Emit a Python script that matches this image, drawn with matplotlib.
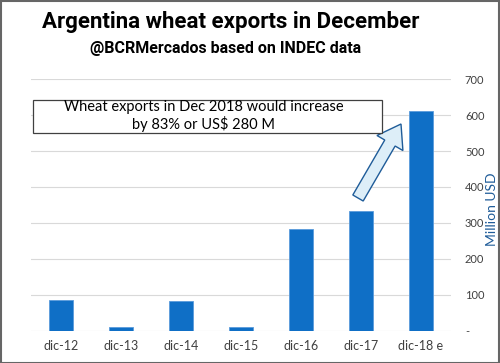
import matplotlib.pyplot as plt
from matplotlib.patches import Rectangle, FancyArrow
from matplotlib.transforms import IdentityTransform

months = ['dic-12', 'dic-13', 'dic-14', 'dic-15', 'dic-16', 'dic-17', 'dic-18 e']
exports = [85, 9, 84, 10, 283, 333, 612]
yticks = [0, 100, 200, 300, 400, 500, 600, 700]
ytick_labels = ['-', '100', '200', '300', '400', '500', '600', '700']

BAR = '#0F6FC6'
FONT = 'Lato'


def main() -> None:
    fig = plt.figure(figsize=(5.0, 3.63), dpi=100)
    ax = fig.add_axes([0.062, 0.089, 0.840, 0.693])

    x = list(range(len(months)))
    ax.bar(x, exports, width=0.4, color=BAR, edgecolor='#5A9BDC', linewidth=0.6, zorder=3)

    ax.set_xlim(-0.5, len(months) - 0.5)
    ax.set_ylim(0, 700)
    ax.set_xticks(x)
    ax.set_xticklabels(months, fontsize=9, color='#404040', family=FONT)
    ax.yaxis.tick_right()
    ax.set_yticks(yticks)
    ax.set_yticklabels(ytick_labels, fontsize=8, color='#404040', family=FONT)
    ax.tick_params(length=0)
    ax.tick_params(axis='y', pad=10)
    ax.tick_params(axis='x', pad=7)
    ax.grid(axis='y', color='#D9D9D9', linewidth=0.8, zorder=0)
    for s in ax.spines.values():
        s.set_visible(False)
    fig.text(492 / 500, 1 - 209 / 363, 'Million USD', rotation=90, ha='center', va='center',
             fontsize=10, color='#1F5C99', family=FONT)

    # callout arrow pointing at the estimate (pixel coordinates, origin bottom-left)
    fig.patches.append(FancyArrow(358, 165, 43, 74, width=12, head_width=30, head_length=22,
                                  length_includes_head=True, facecolor='#DDEEF8',
                                  edgecolor='#1F5C99', linewidth=1.0, zorder=4,
                                  transform=IdentityTransform()))

    # annotation box
    fig.patches.append(Rectangle((33 / 500, 1 - 133 / 363), 349 / 500, 33 / 363,
                                 transform=fig.transFigure, facecolor='white',
                                 edgecolor='#404040', linewidth=0.9, zorder=5))
    fig.text(204 / 500, 1 - 116 / 363, 'Wheat exports in Dec 2018 would increase\nby 83% or US$ 280 M',
             ha='center', va='center', fontsize=10.5, family=FONT, color='black',
             linespacing=1.15, zorder=6)

    fig.text(231 / 500, 1 - 22 / 363, 'Argentina wheat exports in December', ha='center', va='center',
             fontsize=16, fontweight='bold', family='Roboto')
    fig.text(226 / 500, 1 - 48 / 363, '@BCRMercados based on INDEC data', ha='center', va='center',
             fontsize=11.5, fontweight='bold', family='Roboto')

    fig.patches.append(Rectangle((0.001, 0.001), 0.997, 0.997, transform=fig.transFigure,
                                 fill=False, edgecolor='#666666', linewidth=1.5))

    fig.savefig('out.png', dpi=100)


if __name__ == '__main__':
    main()
